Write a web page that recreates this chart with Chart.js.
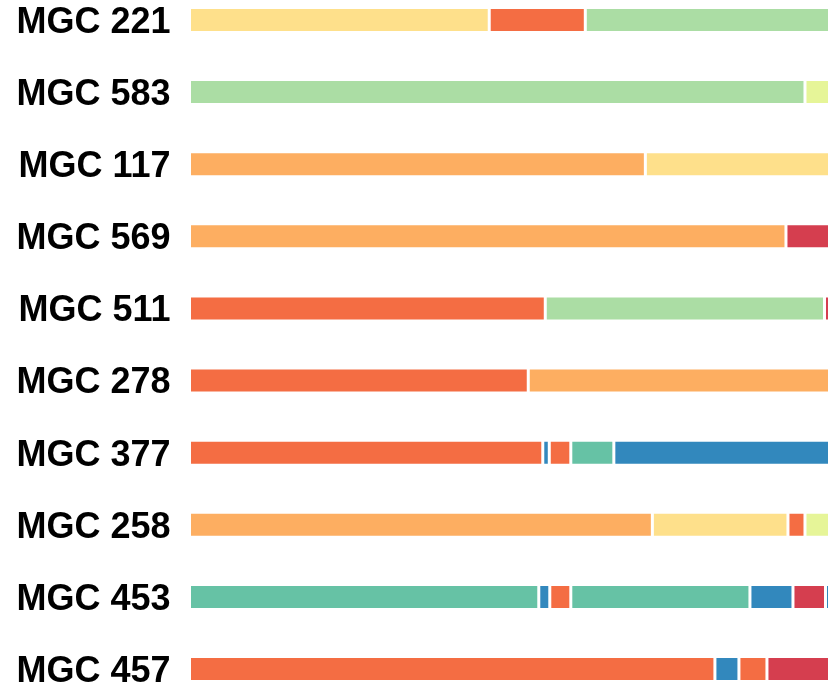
<!DOCTYPE html>
<html>
<head>
<meta charset="utf-8">
<script src="https://cdn.jsdelivr.net/npm/chart.js@4/dist/chart.umd.min.js"></script>
<style>
  html, body { margin: 0; padding: 0; background: #ffffff; }
  #wrap { width: 828px; height: 689px; position: relative; }
</style>
</head>
<body>
<div id="wrap"><canvas id="c"></canvas></div>
<script>
// Gene clusters (top to bottom)
const categories = ["MGC 221", "MGC 583", "MGC 117", "MGC 569", "MGC 511",
                    "MGC 278", "MGC 377", "MGC 258", "MGC 453", "MGC 457"];

// Segment lengths along each cluster (left to right)
const seg1 = [299.5, 615, 455.5, 596, 355.5, 338.5, 353, 462.5, 349, 525];
const seg2 = [96, 40, 200, 60, 279, 320, 6.5, 135.5, 11, 24];
const seg3 = [260, null, null, null, 40, null, 21.5, 17, 21, 28];
const seg4 = [null, null, null, null, null, null, 43, 40, 179, 80];
const seg5 = [null, null, null, null, null, null, 240, null, 43, null];
const seg6 = [null, null, null, null, null, null, null, null, 32.5, null];
const seg7 = [null, null, null, null, null, null, null, null, 20, null];

// Function class of each segment
const cls1 = ["c4", "c6", "c3", "c3", "c2", "c2", "c2", "c3", "c7", "c2"];
const cls2 = ["c2", "c5", "c4", "c1", "c6", "c3", "c8", "c4", "c8", "c8"];
const cls3 = ["c6", null, null, null, "c1", null, "c2", "c2", "c2", "c2"];
const cls4 = [null, null, null, null, null, null, "c7", "c5", "c7", "c1"];
const cls5 = [null, null, null, null, null, null, "c8", null, "c8", null];
const cls6 = [null, null, null, null, null, null, null, null, "c1", null];
const cls7 = [null, null, null, null, null, null, null, null, "c8", null];

const axisMax = 638;

const palette = {
  c1: "#d53e4f", c2: "#f46d43", c3: "#fdae61", c4: "#fee08b",
  c5: "#e6f598", c6: "#abdda4", c7: "#66c2a5", c8: "#3288bd"
};

const segs = [seg1, seg2, seg3, seg4, seg5, seg6, seg7];
const clss = [cls1, cls2, cls3, cls4, cls5, cls6, cls7];

const datasets = segs.map((vals, k) => ({
  label: "segment " + (k + 1),
  data: vals,
  backgroundColor: clss[k].map(c => c ? palette[c] : "rgba(0,0,0,0)"),
  borderColor: "#ffffff",
  borderWidth: 1.5,
  borderSkipped: false,
  barThickness: 25,
  inflateAmount: 0,
  clip: false
}));

new Chart(document.getElementById("c"), {
  type: "bar",
  data: { labels: categories, datasets: datasets },
  options: {
    indexAxis: "y",
    responsive: true,
    maintainAspectRatio: false,
    animation: false,
    layout: { padding: { left: 0, right: 0, top: 0, bottom: 0 } },
    plugins: { legend: { display: false }, tooltip: { enabled: false } },
    scales: {
      x: {
        stacked: true, min: 0, max: axisMax, display: false
      },
      y: {
        stacked: true,
        offset: false,
        grid: { display: false, drawTicks: false },
        border: { display: false },
        ticks: {
          color: "#000000",
          padding: 19,
          labelOffset: 3,
          font: { family: "'Liberation Sans', Arial, sans-serif", size: 36, weight: "bold", lineHeight: 0.05 }
        },
        afterFit: (scale) => { scale.width = 189.5; }
      }
    }
  }
});
</script>
</body>
</html>
